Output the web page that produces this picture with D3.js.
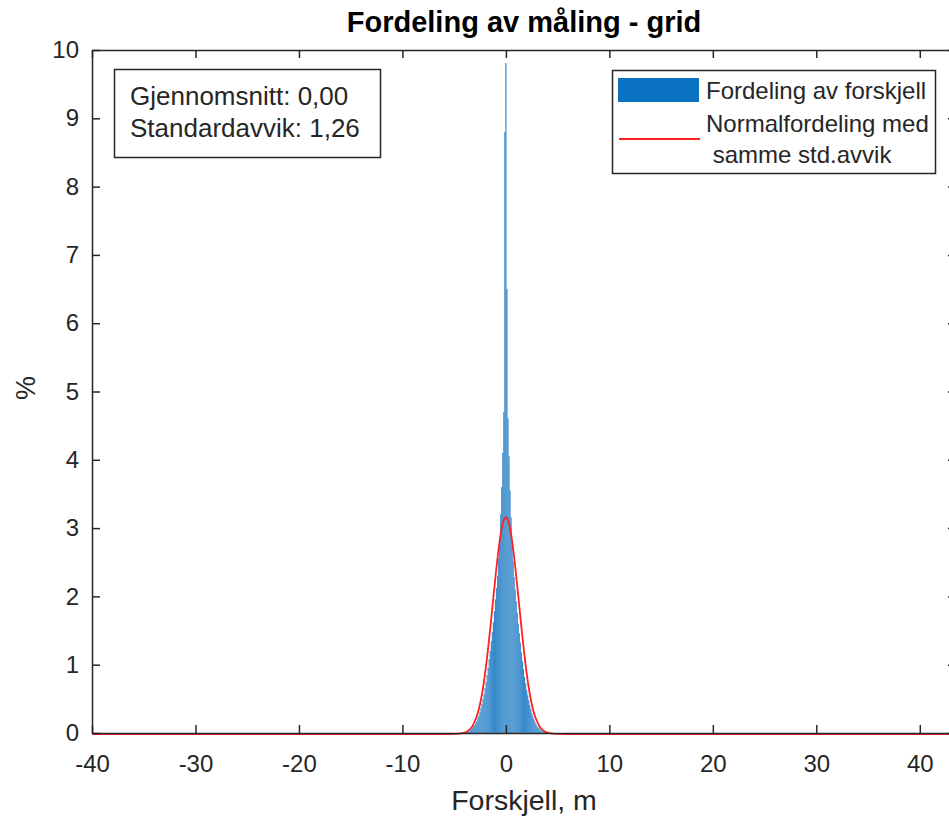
<!DOCTYPE html>
<html>
<head>
<meta charset="utf-8">
<script src="https://cdn.jsdelivr.net/npm/d3@7"></script>
<style>
  html, body { margin: 0; padding: 0; background: #fff; }
  svg { display: block; font-family: "Liberation Sans", Arial, Helvetica, sans-serif; }
</style>
</head>
<body>
<svg id="chart" width="949" height="819"></svg>
<script>
// Histogram of differences: bins of width 0.1 m, centred on multiples of 0.1
const binWidth = 0.1;
const binCenters = d3.range(-40, 41).map(i => i / 10);   // -4.0 .. 4.0
const histPercent = [
  0.005, 0.007, 0.01, 0.015, 0.02, 0.03, 0.04, 0.055, 0.07, 0.09,
  0.11, 0.14, 0.17, 0.21, 0.25, 0.30, 0.36, 0.42, 0.49, 0.56,
  0.65, 0.74, 0.84, 0.95, 1.07, 1.20, 1.34, 1.48, 1.62, 1.78,
  1.95, 2.12, 2.30, 2.55, 2.85, 3.20, 3.60, 4.10, 4.70, 8.80,
  9.80,
  6.50, 4.60, 4.05, 3.55, 3.15, 2.80, 2.52, 2.28, 2.10, 1.93,
  1.76, 1.60, 1.46, 1.32, 1.18, 1.05, 0.93, 0.82, 0.72, 0.63,
  0.55, 0.48, 0.41, 0.35, 0.29, 0.24, 0.20, 0.16, 0.13, 0.10,
  0.08, 0.065, 0.05, 0.04, 0.03, 0.02, 0.015, 0.01, 0.007, 0.005
];

// Reference normal curve with the same standard deviation (% per bin)
const normalX = [-40, -6, -5, -4.5, -4, -3.75, -3.5, -3.25, -3, -2.75, -2.5, -2.25, -2, -1.75, -1.5, -1.25, -1, -0.75, -0.5, -0.25,
  0, 0.25, 0.5, 0.75, 1, 1.25, 1.5, 1.75, 2, 2.25, 2.5, 2.75, 3, 3.25, 3.5, 3.75, 4, 4.5, 5, 6, 43.5];
const normalPercent = [0, 0, 0.001, 0.005, 0.02, 0.038, 0.067, 0.11, 0.19, 0.29, 0.44, 0.64, 0.90, 1.21, 1.56, 1.94, 2.31, 2.65, 2.93, 3.11,
  3.17, 3.11, 2.93, 2.65, 2.31, 1.94, 1.56, 1.21, 0.90, 0.64, 0.44, 0.29, 0.19, 0.11, 0.067, 0.038, 0.02, 0.005, 0.001, 0, 0];

const xTicks = [-40, -30, -20, -10, 0, 10, 20, 30, 40];
const yTicks = [0, 1, 2, 3, 4, 5, 6, 7, 8, 9, 10];

const statLines = ["Gjennomsnitt: 0,00", "Standardavvik: 1,26"];
const legendLabels = ["Fordeling av forskjell", "Normalfordeling med", " samme std.avvik"];

const svg = d3.select("#chart");
const axisColor = "#262626";

const plot = { left: 92, top: 50, right: 956, bottom: 733 };
const x = d3.scaleLinear().domain([-40, 43.5]).range([plot.left, plot.right]);
const y = d3.scaleLinear().domain([0, 10]).range([plot.bottom, plot.top]);

// Bars
svg.append("g")
  .selectAll("rect")
  .data(binCenters.map((c, i) => ({ c, v: histPercent[i] })))
  .join("rect")
  .attr("x", d => x(d.c - binWidth / 2))
  .attr("width", d => x(d.c + binWidth / 2) - x(d.c - binWidth / 2))
  .attr("y", d => y(d.v))
  .attr("height", d => y(0) - y(d.v))
  .attr("fill", "#2a80c6")
  .attr("stroke", "#5fa3d8")
  .attr("stroke-width", 0.25);

// Normal curve
const line = d3.line()
  .x((d, i) => x(normalX[i]))
  .y(d => y(d))
  .curve(d3.curveMonotoneX);
svg.append("path")
  .attr("d", line(normalPercent))
  .attr("fill", "none")
  .attr("stroke", "#ff2020")
  .attr("stroke-width", 1.8)
  .attr("transform", "translate(0,1)");

// Axes (box with inward ticks on all four sides)
const tickLen = 8;
const xAxisBottom = d3.axisBottom(x).tickValues(xTicks).tickSizeInner(-tickLen).tickSizeOuter(0).tickPadding(22)
  .tickFormat(d => d < 0 ? "-" + Math.abs(d) : String(d));
const xAxisTop = d3.axisTop(x).tickValues(xTicks).tickSizeInner(-tickLen).tickSizeOuter(0).tickFormat("");
const yAxisLeft = d3.axisLeft(y).tickValues(yTicks).tickSizeInner(-tickLen).tickSizeOuter(0).tickPadding(13);
const yAxisRight = d3.axisRight(y).tickValues(yTicks).tickSizeInner(-tickLen).tickSizeOuter(0).tickFormat("");

function styleAxis(g) {
  g.select(".domain").attr("stroke", axisColor).attr("stroke-width", 1.5);
  g.selectAll(".tick line").attr("stroke", axisColor).attr("stroke-width", 1.5);
  g.selectAll(".tick text").attr("fill", axisColor).attr("font-size", 24)
    .attr("font-family", "'Liberation Sans', Arial, sans-serif");
}

svg.append("g").attr("transform", `translate(0,${plot.bottom})`).call(xAxisBottom).call(styleAxis);
svg.append("g").attr("transform", `translate(0,${plot.top})`).call(xAxisTop).call(styleAxis);
svg.append("g").attr("transform", `translate(${plot.left},0)`).call(yAxisLeft).call(styleAxis);
svg.append("g").attr("transform", `translate(${plot.right},0)`).call(yAxisRight).call(styleAxis);

// Title and axis labels
svg.append("text")
  .attr("x", (plot.left + plot.right) / 2).attr("y", 32)
  .attr("text-anchor", "middle").attr("font-weight", "bold").attr("font-size", 29)
  .attr("fill", "#000").text("Fordeling av måling - grid");

svg.append("text")
  .attr("x", (plot.left + plot.right) / 2).attr("y", 810)
  .attr("text-anchor", "middle").attr("font-size", 28.5)
  .attr("fill", axisColor).text("Forskjell, m");

svg.append("text")
  .attr("transform", "translate(35,388) rotate(-90)")
  .attr("text-anchor", "middle").attr("font-size", 27)
  .attr("fill", axisColor).text("%");

// Statistics box
svg.append("rect")
  .attr("x", 114.5).attr("y", 69.5).attr("width", 266).attr("height", 88)
  .attr("fill", "#fff").attr("stroke", axisColor).attr("stroke-width", 1.5);
svg.append("g").selectAll("text").data(statLines).join("text")
  .attr("x", 130).attr("y", (d, i) => 105 + i * 32)
  .attr("font-size", 26).attr("fill", axisColor).text(d => d);

// Legend
const lg = svg.append("g");
lg.append("rect")
  .attr("x", 612.5).attr("y", 70.5).attr("width", 323).attr("height", 103)
  .attr("fill", "#fff").attr("stroke", axisColor).attr("stroke-width", 1.5);
lg.append("rect")
  .attr("x", 618).attr("y", 78).attr("width", 81).attr("height", 24)
  .attr("fill", "#0a72c0");
lg.append("line")
  .attr("x1", 619).attr("x2", 700).attr("y1", 139).attr("y2", 139)
  .attr("stroke", "#ff2020").attr("stroke-width", 1.8);
lg.selectAll("text.lbl").data(legendLabels).join("text")
  .attr("class", "lbl")
  .attr("x", 706).attr("y", (d, i) => [99, 132, 163][i])
  .attr("font-size", 24).attr("fill", axisColor)
  .attr("xml:space", "preserve")
  .style("white-space", "pre")
  .text(d => d);
</script>
</body>
</html>
